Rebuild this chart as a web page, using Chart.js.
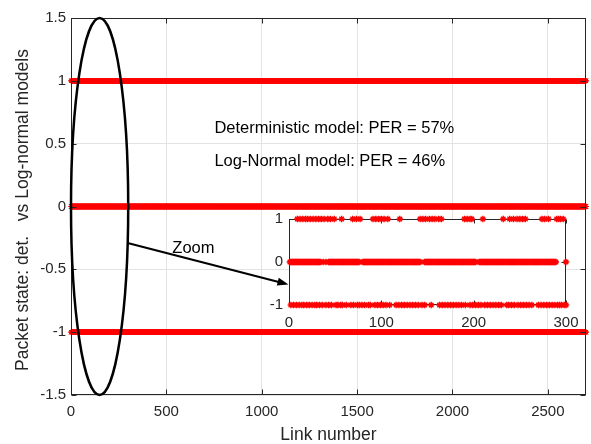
<!DOCTYPE html>
<html>
<head>
<meta charset="utf-8">
<script src="https://cdn.jsdelivr.net/npm/chart.js@4.4.1/dist/chart.umd.min.js"></script>
<style>
  html, body { margin: 0; padding: 0; background: #fff; }
  #wrap { position: relative; width: 591px; height: 444px; }
  #mainChart { position: absolute; left: 0; top: 0; }
  #zoomChart { position: absolute; left: 255px; top: 205px; }
</style>
</head>
<body>
<div id="wrap">
  <canvas id="mainChart" width="591" height="444"></canvas>
  <canvas id="zoomChart" width="330" height="130"></canvas>
</div>
<script>
// === Data ===
const xTicks = [0, 500, 1000, 1500, 2000, 2500];
const zoomXTicks = [0, 100, 200, 300];
const upState = 1, zeroState = 0, downState = -1;

// main plot: each state reads as a continuous band of links
const mainUpRuns = [[1, 2700]];
const mainZeroRuns = [[1, 2700]];
const mainDownRuns = [[1, 2700]];

// zoom (links 1-300)
const zoomUpLinks = [9, 12, 15, 18, 20, 23, 26, 29, 32, 35, 38, 42, 45, 49, 57, 69, 73, 77,
  91, 94, 97, 100, 103, 107, 120, 142, 145, 148, 152, 155, 158, 162, 165, 190, 193, 196, 198,
  210, 232, 239, 243, 247, 250, 253, 256, 274, 277, 281, 290, 292, 294, 297];
const zoomZeroRuns = [[1, 34], [37, 37], [40, 40], [43, 76], [80, 142], [147, 202], [206, 289], [300, 300]];
const zoomDownLinks = [2, 5, 8, 11, 14, 16, 19, 22, 25, 28, 30, 33, 36, 40, 43, 46, 51, 53, 56, 58,
  62, 67, 70, 74, 76, 79, 82, 86, 88, 93, 96, 99, 102, 105, 109, 116, 119, 122, 125, 128, 131,
  134, 137, 140, 144, 147, 154, 163, 166, 169, 172, 175, 178, 181, 184, 187, 191, 196, 199, 202,
  205, 208, 212, 215, 218, 221, 224, 227, 230, 236, 238, 241, 244, 248, 251, 254, 257, 260, 263,
  270, 273, 276, 279, 282, 285, 288, 291, 293, 295, 298, 300];

// === Helpers ===
function runsToPoints(runs, y) {
  const pts = [];
  runs.forEach(([a, b]) => { for (let i = a; i <= b; i++) pts.push({ x: i, y: y }); });
  return pts;
}
function linksToPoints(links, y) {
  return links.map(l => ({ x: l, y: y }));
}

const FONT = "Helvetica, 'Liberation Sans', Arial, sans-serif";
const TXT = '#262626';
const RED = '#ff0000';
const plain = v => String(v); // matlab style: 1, -0.5, 1000

function starSet(data, r, w) {
  return {
    data: data,
    showLine: false,
    pointStyle: 'star',
    pointRadius: r,
    pointBorderColor: RED,
    pointBackgroundColor: RED,
    pointBorderWidth: w,
    clip: false
  };
}

// box + inward ticks (matlab look)
function boxTicks(chart, len) {
  const ctx = chart.ctx, a = chart.chartArea;
  const xs = chart.scales.x, ys = chart.scales.y;
  ctx.save();
  ctx.strokeStyle = TXT;
  ctx.lineWidth = 1;
  const L = Math.round(a.left) + 0.5, R = Math.round(a.right) - 0.5;
  const T = Math.round(a.top) + 0.5, B = Math.round(a.bottom) - 0.5;
  ctx.strokeRect(L, T, R - L, B - T);
  ctx.beginPath();
  xs.ticks.forEach(t => {
    const px = Math.round(xs.getPixelForValue(t.value)) + 0.5;
    ctx.moveTo(px, B); ctx.lineTo(px, B - len);
    ctx.moveTo(px, T); ctx.lineTo(px, T + len);
  });
  ys.ticks.forEach(t => {
    const py = Math.round(ys.getPixelForValue(t.value)) + 0.5;
    ctx.moveTo(L, py); ctx.lineTo(L + len, py);
    ctx.moveTo(R, py); ctx.lineTo(R - len, py);
  });
  ctx.stroke();
  ctx.restore();
}

// === Main chart ===
const mainDecor = {
  id: 'mainDecor',
  afterDatasetsDraw(chart) {
    const ctx = chart.ctx;
    const xs = chart.scales.x, ys = chart.scales.y;
    boxTicks(chart, 5);

    ctx.save();
    // ellipse round the first 300 links
    const cx = xs.getPixelForValue(150), cy = ys.getPixelForValue(0);
    const rx = xs.getPixelForValue(300) - cx, ry = cy - ys.getPixelForValue(1.5);
    ctx.strokeStyle = '#000';
    ctx.lineWidth = 2.5;
    ctx.beginPath();
    ctx.ellipse(cx, cy, rx, ry, 0, 0, Math.PI * 2);
    ctx.stroke();

    // arrow towards the zoom
    const x1 = xs.getPixelForValue(297), y1 = ys.getPixelForValue(-0.29);
    const x2 = xs.getPixelForValue(1140), y2 = ys.getPixelForValue(-0.62);
    const ang = Math.atan2(y2 - y1, x2 - x1);
    ctx.lineWidth = 2;
    ctx.beginPath();
    ctx.moveTo(x1, y1);
    ctx.lineTo(x2 - 8 * Math.cos(ang), y2 - 8 * Math.sin(ang));
    ctx.stroke();
    ctx.fillStyle = '#000';
    ctx.beginPath();
    ctx.moveTo(x2, y2);
    ctx.lineTo(x2 - 11 * Math.cos(ang) + 4 * Math.sin(ang), y2 - 11 * Math.sin(ang) - 4 * Math.cos(ang));
    ctx.lineTo(x2 - 11 * Math.cos(ang) - 4 * Math.sin(ang), y2 - 11 * Math.sin(ang) + 4 * Math.cos(ang));
    ctx.closePath();
    ctx.fill();

    // texts
    ctx.font = '16.5px ' + FONT;
    ctx.fillStyle = '#000';
    ctx.textBaseline = 'middle';
    ctx.textAlign = 'center';
    ctx.fillText('Zoom', xs.getPixelForValue(642), ys.getPixelForValue(-0.33));
    ctx.textAlign = 'left';
    ctx.fillText('Deterministic model: PER = 57%', xs.getPixelForValue(752), ys.getPixelForValue(0.62));
    ctx.fillText('Log-Normal model: PER = 46%', xs.getPixelForValue(752), ys.getPixelForValue(0.36));

    // axis titles
    ctx.fillStyle = TXT;
    ctx.font = '17.5px ' + FONT;
    ctx.textAlign = 'center';
    ctx.fillText('Link number', (chart.chartArea.left + chart.chartArea.right) / 2, 435);
    ctx.translate(23, 210);
    ctx.rotate(-Math.PI / 2);
    ctx.fillText('Packet state: det.   vs Log-normal models', 0, 0);
    ctx.restore();
  }
};

new Chart(document.getElementById('mainChart'), {
  type: 'scatter',
  data: {
    datasets: [
      starSet(runsToPoints(mainUpRuns, upState), 2.8, 1),
      starSet(runsToPoints(mainZeroRuns, zeroState), 2.8, 1),
      starSet(runsToPoints(mainDownRuns, downState), 2.8, 1)
    ]
  },
  options: {
    responsive: false,
    animation: false,
    events: [],
    layout: { padding: { top: 18, right: 3, left: 0, bottom: 0 } },
    plugins: { legend: { display: false }, tooltip: { enabled: false } },
    scales: {
      x: {
        type: 'linear', min: 0, max: 2700,
        afterBuildTicks: s => { s.ticks = xTicks.map(v => ({ value: v })); },
        afterFit: s => { s.height = 49; },
        grid: { color: '#e3e3e3', drawTicks: false },
        border: { display: false },
        ticks: { callback: plain, color: TXT, font: { family: FONT, size: 15 }, padding: 8, maxRotation: 0 }
      },
      y: {
        type: 'linear', min: -1.5, max: 1.5,
        afterFit: s => { s.width = 71; },
        grid: { color: '#e3e3e3', drawTicks: false },
        border: { display: false },
        ticks: { stepSize: 0.5, callback: plain, color: TXT, font: { family: FONT, size: 15 }, padding: 5 }
      }
    }
  },
  plugins: [mainDecor]
});

// === Zoom inset ===
const zoomDecor = {
  id: 'zoomDecor',
  beforeDatasetsDraw(chart) {
    const a = chart.chartArea, ctx = chart.ctx;
    ctx.save();
    ctx.fillStyle = '#fff';
    ctx.fillRect(a.left, a.top, a.right - a.left, a.bottom - a.top);
    ctx.restore();
    boxTicks(chart, 4);
  }
};

new Chart(document.getElementById('zoomChart'), {
  type: 'scatter',
  data: {
    datasets: [
      starSet(runsToPoints(zoomZeroRuns, zeroState), 3.2, 1.4),
      starSet(linksToPoints(zoomUpLinks, upState), 3.2, 1.4),
      starSet(linksToPoints(zoomDownLinks, downState), 3.2, 1.4)
    ]
  },
  options: {
    responsive: false,
    animation: false,
    events: [],
    layout: { padding: { top: 14, right: 19, left: 0, bottom: 0 } },
    plugins: { legend: { display: false }, tooltip: { enabled: false } },
    scales: {
      x: {
        type: 'linear', min: 0, max: 300,
        afterBuildTicks: s => { s.ticks = zoomXTicks.map(v => ({ value: v })); },
        afterFit: s => { s.height = 30; },
        grid: { display: false },
        border: { display: false },
        ticks: { callback: plain, color: TXT, font: { family: FONT, size: 15 }, padding: 1, maxRotation: 0 }
      },
      y: {
        type: 'linear', min: -1, max: 1,
        afterFit: s => { s.width = 34; },
        grid: { display: false },
        border: { display: false },
        ticks: { stepSize: 1, callback: plain, color: TXT, font: { family: FONT, size: 15 }, padding: -2 }
      }
    }
  },
  plugins: [zoomDecor]
});
</script>
</body>
</html>
